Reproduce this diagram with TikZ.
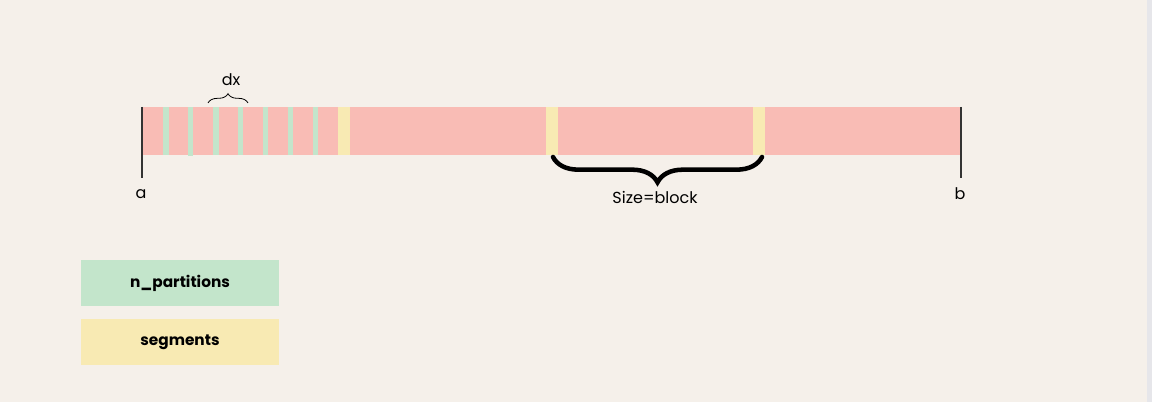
\documentclass[tikz,border=0pt]{standalone}
\usepackage{fontspec}
\setmainfont{Poppins}
\usetikzlibrary{decorations.pathreplacing}
\definecolor{bgc}{HTML}{F5F0EA}
\definecolor{barc}{HTML}{F9BCB5}
\definecolor{grc}{HTML}{C3E5CB}
\definecolor{ylc}{HTML}{F8EAB3}
\definecolor{edgec}{HTML}{E6E6EA}
\tikzset{
  stripe/.style={fill=grc, draw=none},
  seg/.style={fill=ylc, draw=none},
  endline/.style={draw=black!80, line width=0.9pt},
  lbl/.style={font=\fontsize{12}{14}\selectfont, inner sep=0pt},
  legend/.style={minimum width=148.5pt, minimum height=34pt, inner sep=0pt, font=\fontsize{11.5}{13}\selectfont\bfseries},
}
\begin{document}
\begin{tikzpicture}[x=0.75pt,y=-0.75pt]
\fill[bgc] (0,0) rectangle (1152,402);
\fill[edgec] (1147,0) rectangle (1152,402);
\useasboundingbox (0,0) rectangle (1152,402);
% bar
\fill[barc] (142,107) rectangle (961,155);
\foreach \x in {163.3,213.3,237.7,262.7,287.7,312.7}{
  \fill[stripe] (\x,107) rectangle ++(5.6,48);
}
\fill[stripe] (187.7,107) rectangle ++(5.6,49);
\fill[seg] (338,107) rectangle (350,155);
\fill[seg] (545.5,107) rectangle (557.5,155);
\fill[seg] (752.7,107) rectangle (765.3,155);
% end lines
\coordinate (a0) at (142,107); \coordinate (a1) at (142,178);
\coordinate (b0) at (961,107); \coordinate (b1) at (961,178);
\draw[endline] (a0) -- (a1);
\draw[endline] (b0) -- (b1);
\node[lbl] (la) at (141,194) {a};
\node[lbl] (lb) at (960,194) {b};
% dx brace
\coordinate (d0) at (208,103); \coordinate (d1) at (248,103);
\draw[decorate, decoration={brace, amplitude=7pt}, line width=0.6pt] (d0) -- (d1);
\node[lbl] (dx) at (231,80) {dx};
% block brace
\coordinate (s0) at (762,157); \coordinate (s1) at (553,157);
\draw[decorate, decoration={brace, amplitude=19pt}, line width=3.4pt, line cap=round] (s0) -- (s1);
\node[lbl] (size) at (655,197) {Size=block};
% legend
\node[legend, fill=grc] (np) at (180,283) {n\_partitions};
\node[legend, fill=ylc] (sg) at (180,342) {segments};
\end{tikzpicture}
\end{document}
